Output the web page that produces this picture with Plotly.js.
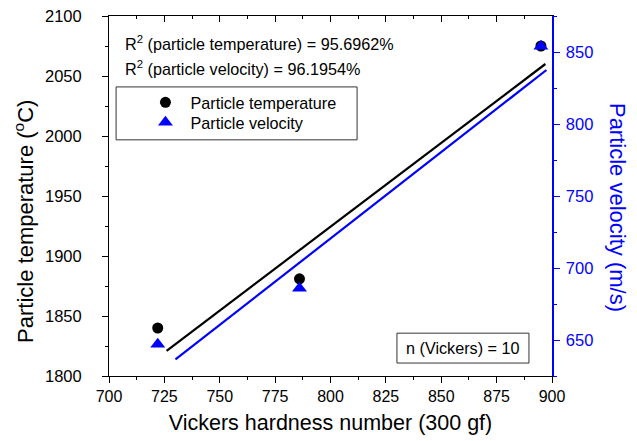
<!DOCTYPE html>
<html>
<head>
<meta charset="utf-8">
<script src="https://cdn.plot.ly/plotly-3.0.1.min.js"></script>
<style>html,body{margin:0;padding:0;background:#fff;}#chart{width:637px;height:441px;}</style>
</head>
<body>
<div id="chart"></div>
<script>
// Data
const hardness = [722, 786, 895];
const particleTemperature = [1840, 1881, 2075];
const particleVelocity = [647, 686, 854];
// Linear fit lines (end points)
const fitHardnessTemp = [726, 897];
const fitTemperature = [1821, 2060];
const fitHardnessVel = [730, 897.5];
const fitVelocity = [636.5, 837.5];
const r2Labels = ["R<sup>2</sup> (particle temperature) = 95.6962%", "R<sup>2</sup> (particle velocity) = 96.1954%"];
const nLabel = "n (Vickers) = 10";
const xTitle = "Vickers hardness number (300 gf)";
const yTitle = "Particle temperature (<sup>o</sup>C)";
const y2Title = "Particle velocity (m/s)";

const FONT = "Liberation Sans, Arial, sans-serif";
const BLUE = "#0000ff";

const traces = [
  {x: fitHardnessTemp, y: fitTemperature, xaxis: "x2", yaxis: "y", mode: "lines",
   line: {color: "#000", width: 2.2}, showlegend: false, hoverinfo: "skip"},
  {x: fitHardnessVel, y: fitVelocity, xaxis: "x", yaxis: "y2", mode: "lines",
   line: {color: BLUE, width: 2.2}, showlegend: false, hoverinfo: "skip"},
  {x: hardness, y: particleTemperature, xaxis: "x", yaxis: "y", mode: "markers", name: "Particle temperature",
   legend: "legend", marker: {symbol: "circle", size: 11, color: "#000"}},
  {x: hardness, y: particleVelocity, xaxis: "x", yaxis: "y2", mode: "markers", name: "Particle velocity",
   legend: "legend2", marker: {symbol: "triangle-up", size: 13, color: BLUE}}
];

const legendBase = {xanchor: "left", yanchor: "middle", bgcolor: "rgba(0,0,0,0)", borderwidth: 0,
                    itemwidth: 40, font: {family: FONT, size: 16.2, color: "#000"}};

const layout = {
  width: 637, height: 441,
  margin: {l: 109, r: 85, t: 16, b: 65},
  paper_bgcolor: "#fff", plot_bgcolor: "#fff",
  font: {family: FONT, size: 16, color: "#000"},
  showlegend: true,
  legend: Object.assign({}, legendBase, {x: 0.071, y: 0.759}),
  legend2: Object.assign({}, legendBase, {x: 0.071, y: 0.7036}),
  xaxis: {range: [700, 900], dtick: 25, tick0: 700, ticks: "outside", ticklen: 6, tickwidth: 1, tickcolor: "#000",
          minor: {dtick: 12.5, ticks: "outside", ticklen: 3, tickcolor: "#000"},
          showline: true, linecolor: "#000", linewidth: 1, showgrid: false, zeroline: false,
          tickfont: {family: FONT, size: 16, color: "#000"},
          title: {text: xTitle, font: {family: FONT, size: 21.5, color: "#000"}, standoff: 10}},
  xaxis2: {range: [700, 900], overlaying: "x", side: "top", dtick: 25, tick0: 700, ticks: "inside", ticklen: 6,
           tickcolor: "#000", minor: {dtick: 12.5, ticks: "inside", ticklen: 3, tickcolor: "#000"},
           showline: true, linecolor: "#000", linewidth: 1, showgrid: false, zeroline: false, showticklabels: false},
  yaxis: {range: [1800, 2100], dtick: 50, tick0: 1800, ticks: "outside", ticklen: 6, tickcolor: "#000",
          minor: {dtick: 25, ticks: "outside", ticklen: 3, tickcolor: "#000"},
          showline: true, linecolor: "#000", linewidth: 1, showgrid: false, zeroline: false,
          ticklabelstandoff: 17,
          tickfont: {family: FONT, size: 16.5, color: "#000"}},
  yaxis2: {range: [625, 875], overlaying: "y", side: "right", dtick: 50, tick0: 650, ticks: "outside", ticklen: 6,
           tickcolor: BLUE, minor: {dtick: 25, ticks: "outside", ticklen: 3, tickcolor: BLUE},
           showline: true, linecolor: BLUE, linewidth: 1.5, showgrid: false, zeroline: false,
           ticklabelstandoff: 3,
           tickfont: {family: FONT, size: 16.5, color: BLUE}},
  shapes: [
    {type: "rect", xref: "paper", yref: "paper", x0: 0.016, x1: 0.56, y0: 0.656, y1: 0.803,
     line: {color: "#333", width: 1}, fillcolor: "rgba(0,0,0,0)"},
    {type: "rect", xref: "paper", yref: "paper", x0: 0.650, x1: 0.948, y0: 0.036, y1: 0.119,
     line: {color: "#333", width: 1}, fillcolor: "rgba(0,0,0,0)"}
  ],
  annotations: [
    {text: r2Labels[0], xref: "paper", yref: "paper", x: 0.032, y: 0.925, xanchor: "left", yanchor: "middle",
     showarrow: false, font: {family: FONT, size: 16.2, color: "#000"}},
    {text: r2Labels[1], xref: "paper", yref: "paper", x: 0.032, y: 0.856, xanchor: "left", yanchor: "middle",
     showarrow: false, font: {family: FONT, size: 16.2, color: "#000"}},
    {text: nLabel, xref: "paper", yref: "paper", x: 0.799, y: 0.0775, xanchor: "center", yanchor: "middle",
     showarrow: false, font: {family: FONT, size: 16.2, color: "#000"}},
    {text: yTitle, xref: "paper", yref: "paper", x: -0.192, y: 0.4306, xanchor: "center", yanchor: "middle",
     textangle: -90, showarrow: false, font: {family: FONT, size: 22, color: "#000"}},
    {text: y2Title, xref: "paper", yref: "paper", x: 1.148, y: 0.468, xanchor: "center", yanchor: "middle",
     textangle: 90, showarrow: false, font: {family: FONT, size: 22, color: BLUE}}
  ]
};

Plotly.newPlot("chart", traces, layout, {staticPlot: true, displayModeBar: false});
</script>
</body>
</html>
